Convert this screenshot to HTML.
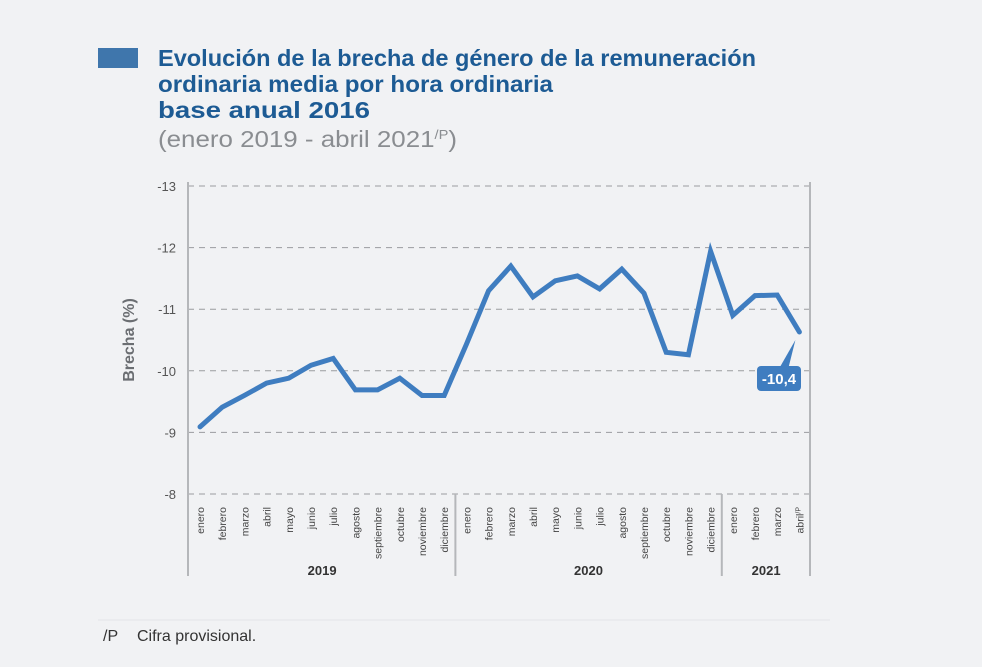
<!DOCTYPE html>
<html><head><meta charset="utf-8"><style>
body{margin:0;background:#f1f2f4;width:982px;height:662px;overflow:hidden;font-family:"Liberation Sans",sans-serif}
</style></head><body>
<svg width="982" height="662">
<rect x="98" y="48" width="40" height="20" fill="#3f76ac"/>
<g font-weight="bold" font-size="23" fill="#1d5b94">
<text x="158" y="66" textLength="598" lengthAdjust="spacingAndGlyphs">Evolución de la brecha de género de la remuneración</text>
<text x="158" y="92" textLength="395" lengthAdjust="spacingAndGlyphs">ordinaria media por hora ordinaria</text>
<text x="158" y="118" textLength="212" lengthAdjust="spacingAndGlyphs">base anual 2016</text>
</g>
<text x="158" y="147" font-size="23" fill="#8a8d91" textLength="299" lengthAdjust="spacingAndGlyphs">(enero 2019 - abril 2021<tspan font-size="13" dy="-8">/P</tspan><tspan dy="8">)</tspan></text>
<g id="grid"></g>
<g id="axes"></g>
<text transform="translate(134,340) rotate(-90)" text-anchor="middle" font-size="16" font-weight="bold" fill="#6b6e72">Brecha (%)</text>
<g id="marks"></g>
<line x1="98" y1="620" x2="830" y2="620" stroke="#e2e4e7"/>
<text x="103" y="641" font-size="16" fill="#333">/P</text>
<text x="137" y="641" font-size="16" fill="#333">Cifra provisional.</text>
</svg>
<script>
const months=["enero","febrero","marzo","abril","mayo","junio","julio","agosto","septiembre","octubre","noviembre","diciembre","enero","febrero","marzo","abril","mayo","junio","julio","agosto","septiembre","octubre","noviembre","diciembre","enero","febrero","marzo","abril"];
const values=[-9.09,-9.41,-9.6,-9.8,-9.88,-10.09,-10.2,-9.69,-9.69,-9.88,-9.6,-9.6,-10.43,-11.3,-11.7,-11.2,-11.46,-11.54,-11.33,-11.65,-11.26,-10.3,-10.26,-11.94,-10.9,-11.22,-11.23,-10.63];
const yTicks=[-8,-9,-10,-11,-12,-13];
const years=["2019","2020","2021"];
const yearStarts=[0,12,24];
const calloutLabel="-10,4";
const NS="http://www.w3.org/2000/svg";
function y(v){return 494+(v+8)*61.6;}
function x(i){return 200+i*22.2;}
function mk(t,a,p){const e=document.createElementNS(NS,t);for(const k in a)e.setAttribute(k,a[k]);p.appendChild(e);return e;}
const grid=document.getElementById('grid'),axes=document.getElementById('axes'),marks=document.getElementById('marks');
yTicks.forEach(t=>{
 const l=mk('line',{x1:188,x2:810,y1:y(t),y2:y(t),stroke:'#9a9c9f','stroke-dasharray':'6,5'},grid);
 
 
 const tx=mk('text',{x:176,y:y(t)+5,'text-anchor':'end','font-size':13,fill:'#555'},grid);tx.textContent=String(t);
 
 
});
const la=mk('line',{x1:188,x2:188,y1:182,y2:576,stroke:'#b5b7ba','stroke-width':2},axes);


const ra=mk('line',{x1:810,x2:810,y1:182,y2:576,stroke:'#b5b7ba','stroke-width':2},axes);


yearStarts.forEach((s,k)=>{
 const e=k<yearStarts.length-1?yearStarts[k+1]:months.length;
 if(k>0){const sp=mk('line',{x1:x(s)-11,x2:x(s)-11,y1:494,y2:576,stroke:'#b5b7ba','stroke-width':2},axes);
 
 }
 const t=mk('text',{x:(x(s)+x(e-1))/2,y:575,'text-anchor':'middle','font-size':13,'font-weight':'bold',fill:'#333'},axes);t.textContent=years[k];
 
 
});
months.forEach((m,i)=>{
 const t=mk('text',{transform:`translate(${x(i)+4},507) rotate(-90)`,'text-anchor':'end','font-size':10.5,fill:'#444'},axes);
 t.textContent=m;
 if(i===months.length-1){const ts=mk('tspan',{'font-size':7,dy:-3},t);ts.textContent='/P';}
 
 
});
const line=mk('polyline',{points:values.map((v,i)=>x(i)+','+y(v)).join(' '),fill:'none',stroke:'#3f7dc0','stroke-width':5,'stroke-linejoin':'miter','stroke-linecap':'round'},marks);


const li=values.length-1,lx=x(li),ly=y(values[li]);
const ptr=mk('polygon',{points:`${lx-4},${ly+8} ${lx-20},368 ${lx-11},368`,fill:'#3f7dc0'},marks);


const cb=mk('rect',{x:757,y:366,width:44,height:25,rx:4,fill:'#3f7dc0'},marks);


const ct=mk('text',{x:779,y:384,'text-anchor':'middle','font-size':15,'font-weight':'bold',fill:'#fff'},marks);ct.textContent=calloutLabel;


</script>
</body></html>
